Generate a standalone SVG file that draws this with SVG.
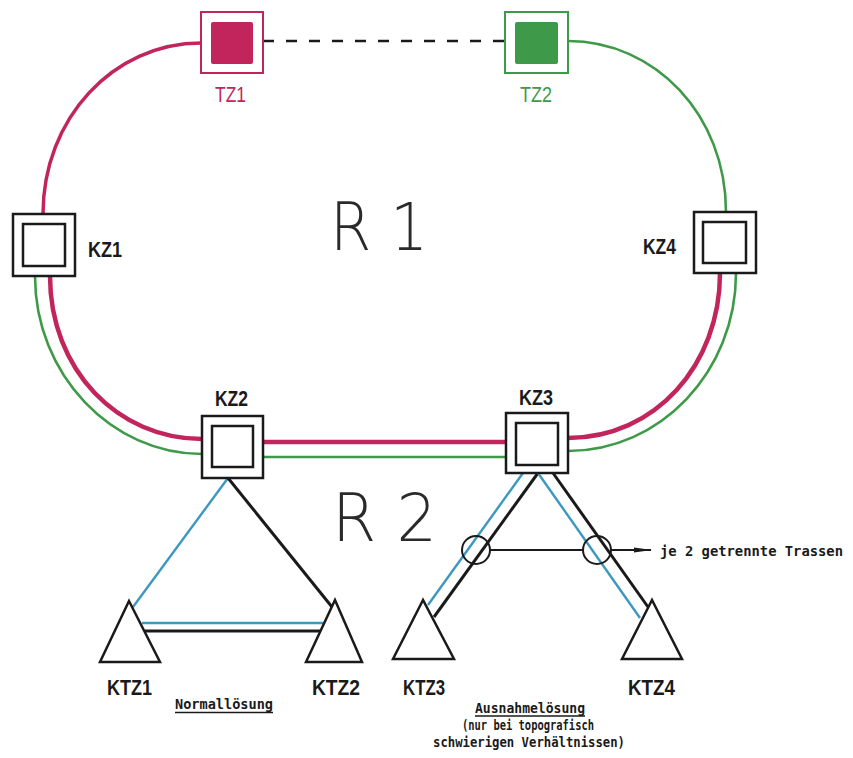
<svg xmlns="http://www.w3.org/2000/svg" width="853" height="758" viewBox="0 0 853 758">
<style>
.bg{fill:#ffffff}
.kz{fill:#ffffff;stroke:#1a1a1a;stroke-width:2.5}
.kzi{fill:none;stroke:#1a1a1a;stroke-width:2.5}
.tri{fill:#ffffff;stroke:#1a1a1a;stroke-width:2.5;stroke-linejoin:miter}
.red{fill:none;stroke:#c2255c;stroke-width:3.5;stroke-linecap:butt}
.redt{fill:none;stroke:#c2255c;stroke-width:4.5}
.grn{fill:none;stroke:#3e9a48;stroke-width:2.6}
.blu{fill:none;stroke:#3d98bf;stroke-width:2.4}
.blk{fill:none;stroke:#1a1a1a;stroke-width:3}
.thin{fill:none;stroke:#1a1a1a;stroke-width:2}
.lbl{font-family:"Liberation Sans",Arial,sans-serif;font-weight:bold;font-size:22px;fill:#1a1a1a}
.tz{font-family:"Liberation Sans",Arial,sans-serif;font-size:22px}
.big{font-family:"DejaVu Sans",Inter,sans-serif;font-weight:200;font-size:66px;fill:#2a2a2a}
.sm{font-family:"DejaVu Sans Mono","Liberation Mono",monospace;font-weight:bold;font-size:14px;fill:#1a1a1a}
</style>
<defs>
<marker id="arr" markerWidth="18" markerHeight="6" refX="17" refY="3" orient="auto" markerUnits="userSpaceOnUse">
<path d="M0,0.5 L18,3 L0,5.5 Z" fill="#1a1a1a"/>
</marker>
</defs>
<rect class="bg" x="0" y="0" width="853" height="758"/>
<g id="connectors">
<path class="red" d="M201,43 C113,43 43,119 43,214"/>
<path class="grn" d="M568,41 C655,41 726,115 726,212"/>
<line x1="263" y1="41" x2="506" y2="41" stroke="#1a1a1a" stroke-width="2.6" stroke-dasharray="11 12"/>
<path class="grn" d="M35,276 C35,375 112,454 202,454"/>
<path class="redt" d="M50,276 C50,370 118,439 202,439"/>
<path class="redt" d="M263,442 L506,442"/>
<path class="grn" d="M263,457 L506,457"/>
<path class="redt" d="M568,438 C655,438 720,365 720,273"/>
<path class="grn" d="M568,451 C660,451 736,372 736,273"/>
<line class="blu" x1="228" y1="478" x2="133" y2="607"/>
<line class="blk" x1="228" y1="478" x2="332" y2="607"/>
<line class="blu" x1="142" y1="623" x2="323" y2="623"/>
<line class="blk" x1="145" y1="631" x2="320" y2="631"/>
<line class="blu" x1="523" y1="473" x2="428" y2="605"/>
<line class="blk" x1="538" y1="473" x2="434" y2="617"/>
<line class="blk" x1="553" y1="473" x2="648" y2="607"/>
<line class="blu" x1="538" y1="473" x2="640" y2="618"/>
<circle class="thin" cx="476" cy="550" r="14"/>
<circle class="thin" cx="597" cy="550" r="14"/>
<line class="thin" x1="490" y1="550" x2="583" y2="550"/>
<line class="thin" x1="611" y1="550" x2="651" y2="550" marker-end="url(#arr)"/>
</g>
<g id="TZ1">
<rect x="201" y="12" width="62" height="61" fill="#ffffff" stroke="#c2255c" stroke-width="2"/>
<rect x="211" y="22" width="42" height="42" rx="2" fill="#c2255c"/>
<text class="tz" x="215" y="102" fill="#c2255c" textLength="31" lengthAdjust="spacingAndGlyphs">TZ1</text>
</g>
<g id="TZ2">
<rect x="505" y="12" width="63" height="61" fill="#ffffff" stroke="#3e9a48" stroke-width="2"/>
<rect x="515" y="22" width="43" height="42" rx="2" fill="#3e9a48"/>
<text class="tz" x="520" y="102" fill="#3e9a48" textLength="32" lengthAdjust="spacingAndGlyphs">TZ2</text>
</g>
<g id="KZ1">
<rect class="kz" x="13" y="214" width="62" height="62"/>
<rect class="kzi" x="23" y="224" width="42" height="42"/>
<text class="lbl" x="88" y="257" textLength="34" lengthAdjust="spacingAndGlyphs">KZ1</text>
</g>
<g id="KZ4">
<rect class="kz" x="694" y="212" width="62" height="61"/>
<rect class="kzi" x="703" y="222" width="43" height="41"/>
<text class="lbl" x="643" y="254" textLength="33" lengthAdjust="spacingAndGlyphs">KZ4</text>
</g>
<g id="KZ2">
<rect class="kz" x="202" y="416" width="61" height="62"/>
<rect class="kzi" x="212" y="426" width="41" height="41"/>
<text class="lbl" x="215" y="406" textLength="33" lengthAdjust="spacingAndGlyphs">KZ2</text>
</g>
<g id="KZ3">
<rect class="kz" x="506" y="413" width="62" height="60"/>
<rect class="kzi" x="516" y="423" width="42" height="42"/>
<text class="lbl" x="519" y="405" textLength="34" lengthAdjust="spacingAndGlyphs">KZ3</text>
</g>
<g id="KTZ1">
<polygon class="tri" points="129,601 100,662 160,662"/>
<text class="lbl" x="107" y="695" textLength="45" lengthAdjust="spacingAndGlyphs">KTZ1</text>
</g>
<g id="KTZ2">
<polygon class="tri" points="335,600 306,662 362,662"/>
<text class="lbl" x="312" y="695" textLength="48" lengthAdjust="spacingAndGlyphs">KTZ2</text>
</g>
<g id="KTZ3">
<polygon class="tri" points="423,600 393,659 454,659"/>
<text class="lbl" x="403" y="695" textLength="42" lengthAdjust="spacingAndGlyphs">KTZ3</text>
</g>
<g id="KTZ4">
<polygon class="tri" points="652,600 622,659 682,659"/>
<text class="lbl" x="628" y="695" textLength="47" lengthAdjust="spacingAndGlyphs">KTZ4</text>
</g>
<g id="labels">
<text class="big" x="330" y="250" textLength="98" lengthAdjust="spacingAndGlyphs">R 1</text>
<text class="big" x="332" y="541" textLength="105" lengthAdjust="spacingAndGlyphs">R 2</text>
<text class="sm" x="175" y="709" textLength="98" lengthAdjust="spacingAndGlyphs">Normallösung</text>
<line x1="175" y1="712.5" x2="273" y2="712.5" stroke="#1a1a1a" stroke-width="1.3"/>
<text class="sm" x="475" y="713" textLength="110" lengthAdjust="spacingAndGlyphs">Ausnahmelösung</text>
<line x1="475" y1="716" x2="585" y2="716" stroke="#1a1a1a" stroke-width="1.3"/>
<text class="sm" x="462" y="730" textLength="132" lengthAdjust="spacingAndGlyphs">(nur bei topografisch</text>
<text class="sm" x="433" y="747" textLength="192" lengthAdjust="spacingAndGlyphs">schwierigen Verhältnissen)</text>
<text class="sm" x="660" y="556" textLength="183" lengthAdjust="spacingAndGlyphs">je 2 getrennte Trassen</text>
</g>
</svg>
